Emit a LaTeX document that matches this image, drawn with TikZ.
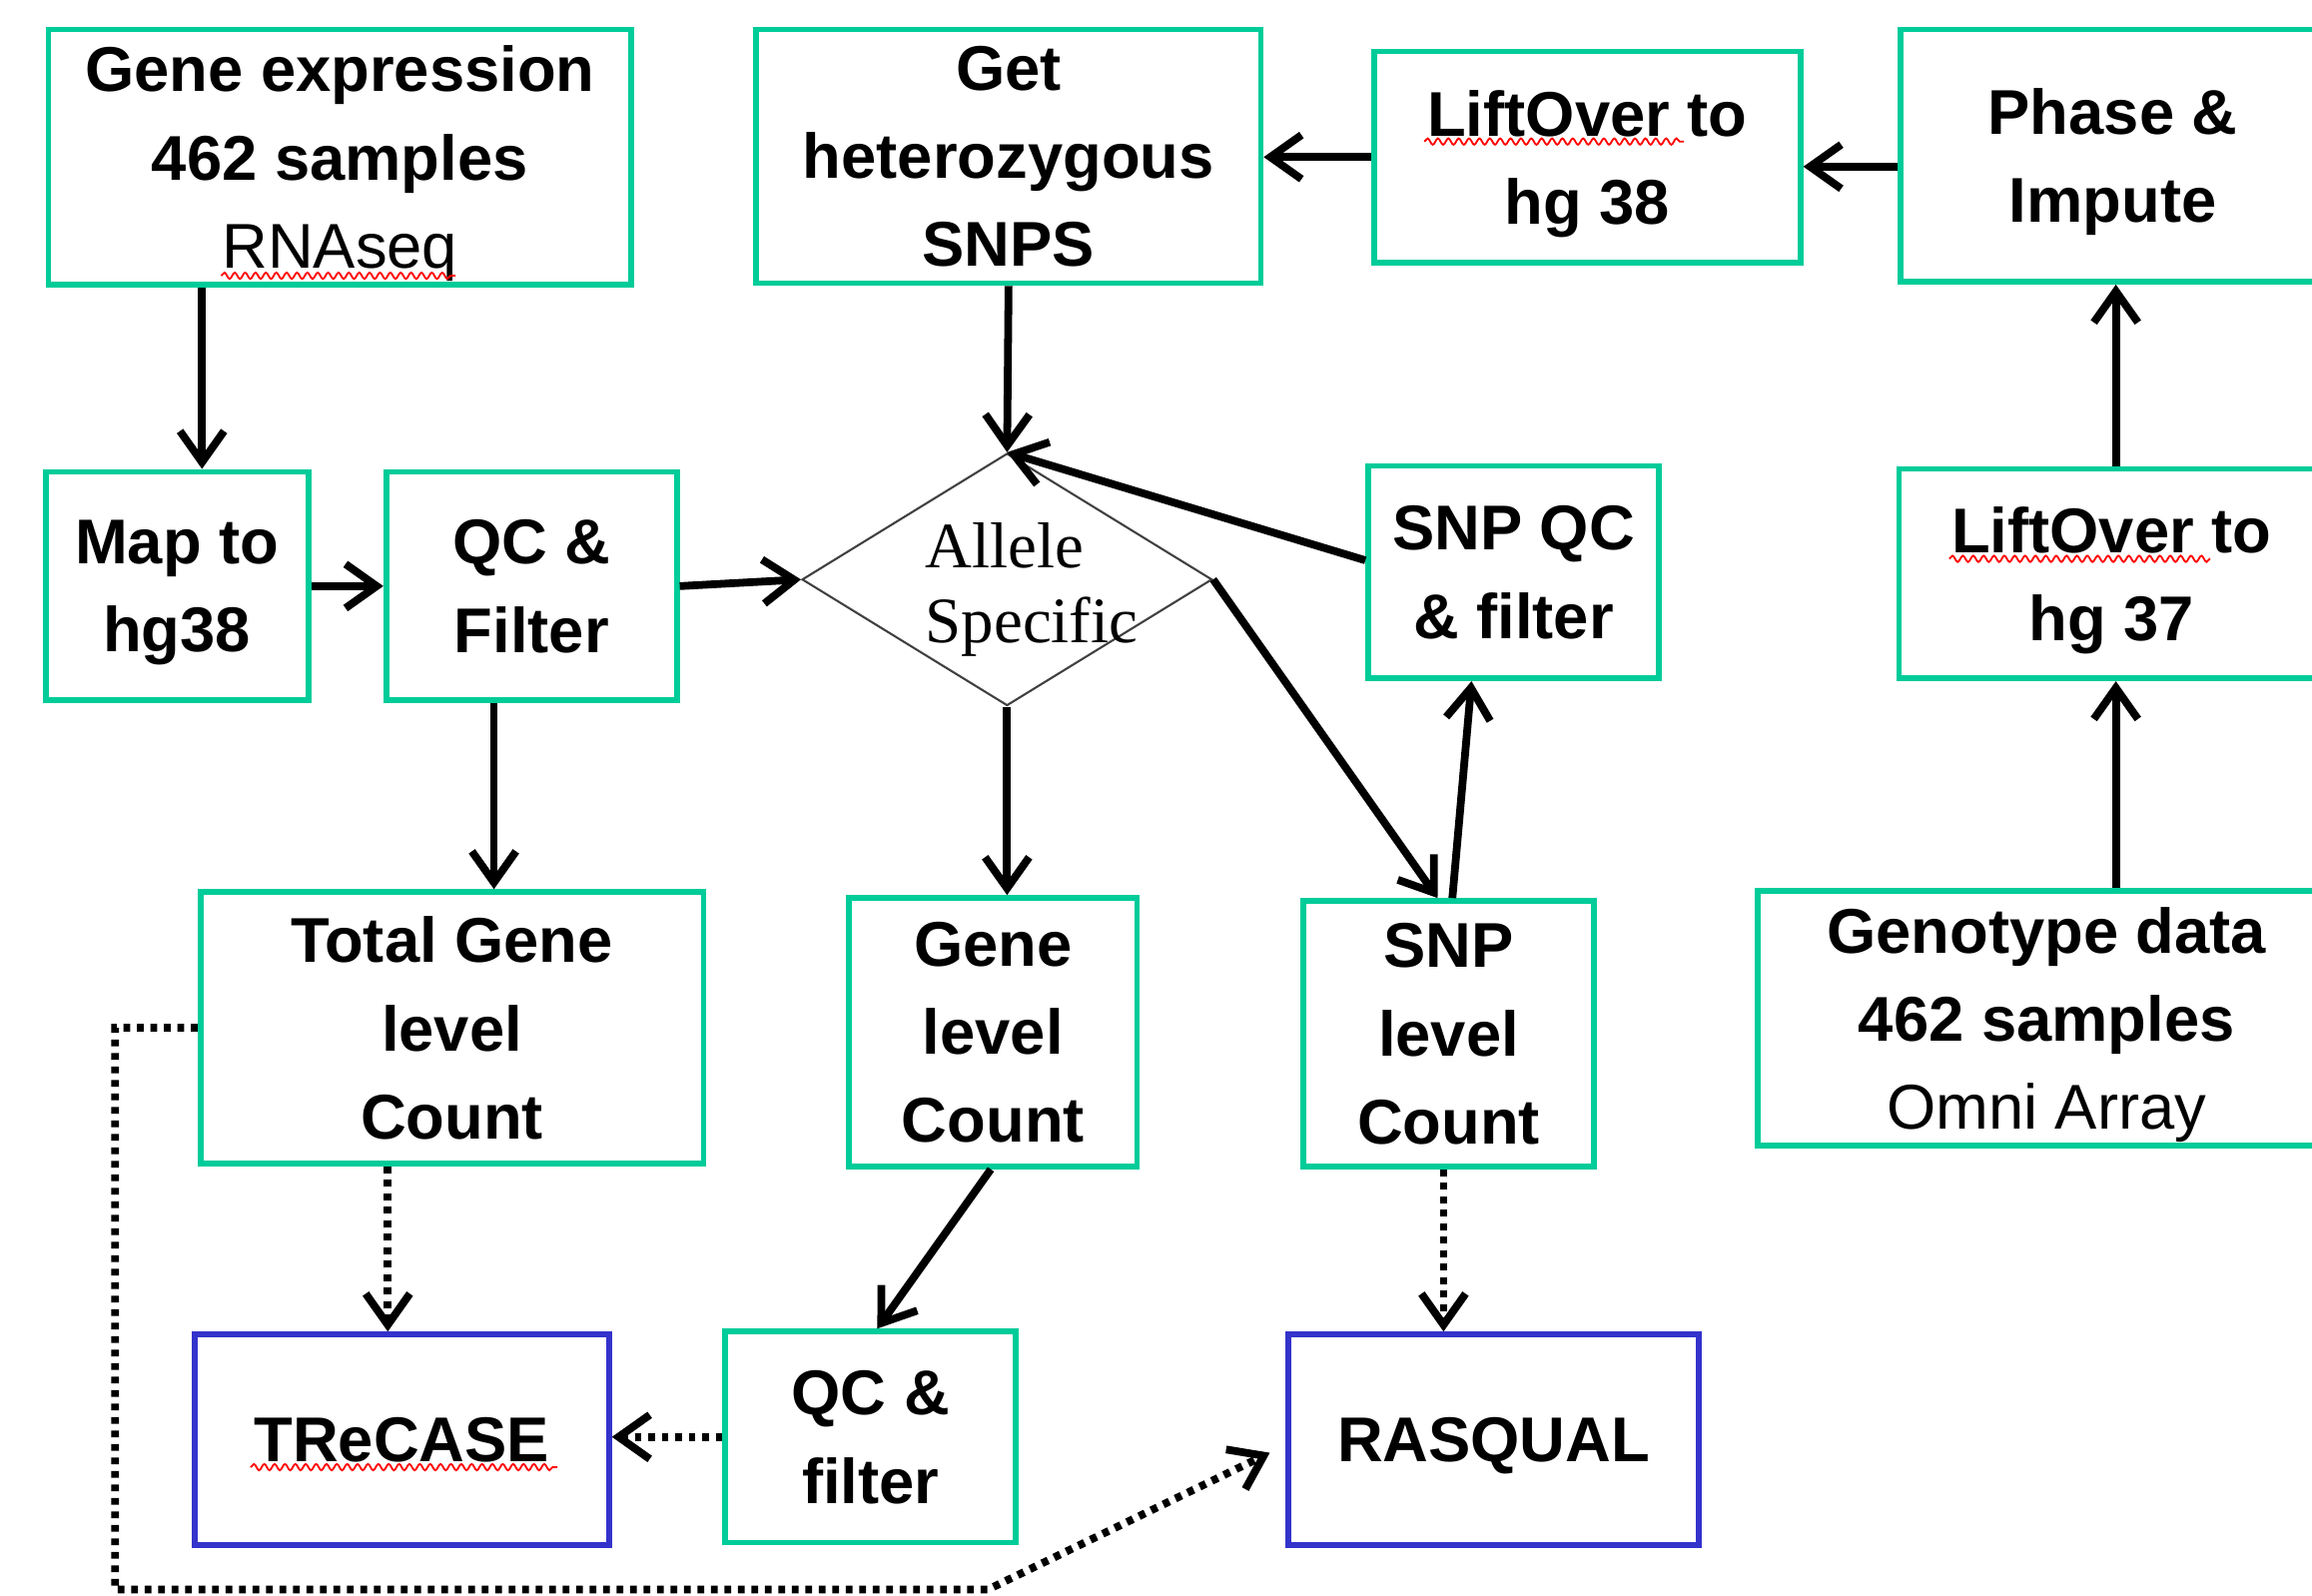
\documentclass[tikz,border=0pt]{standalone}
\usepackage{fontspec}
\setmainfont{Liberation Sans}
\newfontfamily\timesfont{Liberation Serif}
\usetikzlibrary{arrows.meta,shapes.geometric,decorations.pathmorphing}
\definecolor{boxgreen}{RGB}{0,204,153}
\definecolor{boxblue}{RGB}{51,51,204}
\begin{document}
\begin{tikzpicture}[x=0.01cm,y=-0.01cm,
  box/.style={draw=boxgreen, line width=1.1pt, inner sep=0pt, align=center,
    text depth=0pt, font=\fontsize{12.2}{17}\selectfont\bfseries},
  bbox/.style={box, draw=boxblue},
  arr/.style={line width=1.5pt, -{Straight Barb[length=6pt,width=8.5pt]}},
  dotarr/.style={arr, dash pattern=on 1.3pt off 1.3pt},
  squig/.style={red, line width=0.35pt, decorate,
    decoration={snake, amplitude=0.6pt, segment length=2pt}}]
\clip (0,0) rectangle (1568,1082);
\fill[white] (0,0) rectangle (1568,1082);

% boxes
\node[box, minimum width=3.95cm, minimum height=1.73cm] (ge) at (230.5,106.5)
  {Gene expression\\462 samples\\\mdseries RNAseq};
\node[box, minimum width=3.42cm, minimum height=1.72cm] (gh) at (684,106)
  {Get\\heterozygous\\SNPS};
\node[box, minimum width=2.89cm, minimum height=1.43cm] (l38) at (1076.5,106.5)
  {LiftOver to\\hg 38};
\node[box, minimum width=2.88cm, minimum height=1.71cm] (ph) at (1433,105.5)
  {Phase \&\\Impute};
\node[box, minimum width=1.78cm, minimum height=1.55cm] (mt) at (120,397.5)
  {Map to\\hg38};
\node[box, minimum width=1.97cm, minimum height=1.55cm] (q1) at (360.5,397.5)
  {QC \&\\Filter};
\node[diamond, draw=black!75, line width=0.4pt, minimum width=2.78cm,
  minimum height=1.71cm, inner sep=0pt] (as) at (683,393) {};
\node[font=\timesfont\fontsize{12.5}{14.5}\selectfont, align=left, anchor=west,
  inner sep=0pt] (ast) at (627,400) {Allele\\Specific};
\node[box, minimum width=1.97cm, minimum height=1.44cm] (sq) at (1026.5,388)
  {SNP QC\\\& filter};
\node[box, minimum width=2.88cm, minimum height=1.42cm] (l37) at (1432,389)
  {LiftOver to\\hg 37};
\node[box, minimum width=3.41cm, minimum height=1.84cm] (tg) at (306.5,697)
  {Total Gene\\level\\Count};
\node[box, minimum width=1.95cm, minimum height=1.82cm] (gl) at (673.5,700)
  {Gene\\level\\Count};
\node[box, minimum width=1.97cm, minimum height=1.80cm] (sl) at (982.5,701)
  {SNP\\level\\Count};
\node[box, minimum width=3.92cm, minimum height=1.73cm] (gt) at (1388,690.5)
  {Genotype data\\462 samples\\\mdseries Omni Array};
\node[bbox, minimum width=2.81cm, minimum height=1.43cm] (tr) at (272.5,976.5)
  {TReCASE};
\node[box, minimum width=1.97cm, minimum height=1.43cm] (q2) at (590.5,974.5)
  {QC \&\\filter};
\node[bbox, minimum width=2.78cm, minimum height=1.43cm] (rq) at (1013,976.5)
  {RASQUAL};

% spell-check underlines
\draw[squig] (150,187) -- (309,187);
\draw[squig] (966,96) -- (1142,96);
\draw[squig] (1322,379) -- (1499,379);
\draw[squig] (170,995) -- (378,995);

% solid connectors
\draw[arr] (ge.south -| 137,0) -- (mt.north -| 137,0);
\draw[arr] (mt.east) -- (q1.west);
\draw[arr] (q1.east) -- (as.west);
\draw[arr] (q1.south -| 335,0) -- (tg.north -| 335,0);
\draw[arr] (gh.south) -- (as.north);
\draw[arr] (sq.west |- 0,380) -- (as.north);
\draw[arr] (l38.west) -- (gh.east |- l38.west);
\draw[arr] (ph.west |- 0,113) -- (l38.east |- 0,113);
\draw[arr] (l37.north -| 1435,0) -- (ph.south -| 1435,0);
\draw[arr] (gt.north -| 1435,0) -- (l37.south -| 1435,0);
\draw[arr] (as.south) -- (gl.north -| 683,0);
\draw[arr] (as.east) -- (sl.north -| 975,0);
\draw[arr] (sl.north -| 985,0) -- (sq.south -| 998,0);
\draw[arr] (gl.south -| 672,0) -- (q2.north -| 595,0);

% dotted connectors
\draw[dotarr] (tg.south -| 263,0) -- (tr.north -| 263,0);
\draw[dotarr] (q2.west) -- (tr.east |- q2.west);
\draw[dotarr] (sl.south -| 979,0) -- (rq.north -| 979,0);
\draw[dotarr, shorten >=0.12cm] (tg.west) -- (78,697) -- (78,1078) -- (670,1078)
  -- (rq.west |- 0,980);
\end{tikzpicture}
\end{document}
